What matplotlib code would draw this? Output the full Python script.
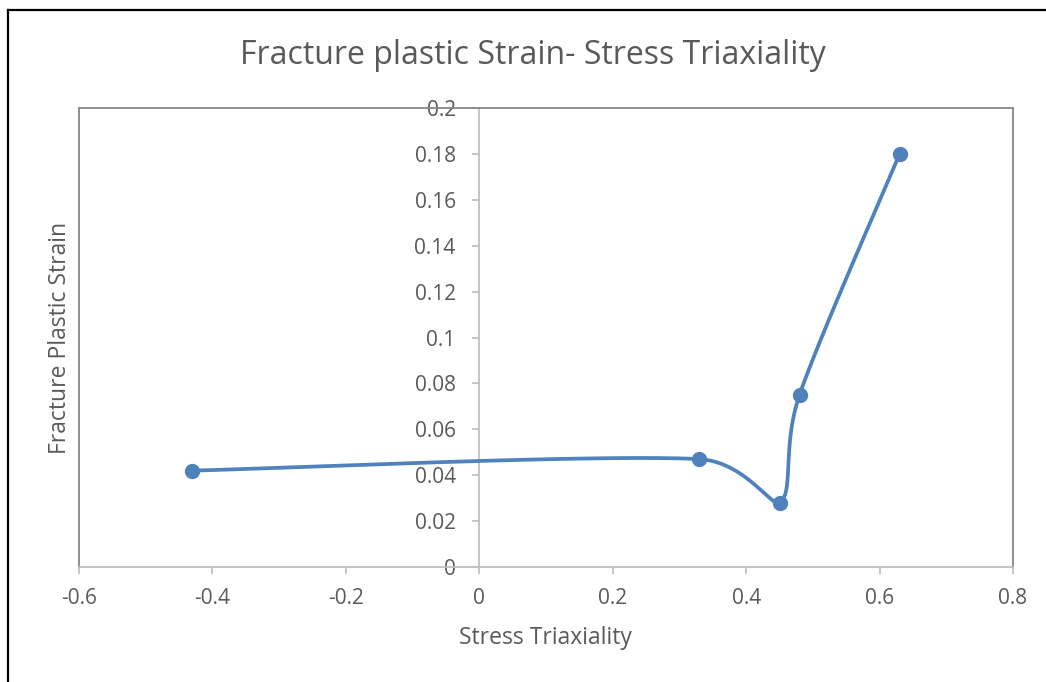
import numpy as np
import matplotlib
matplotlib.use("Agg")
import matplotlib.pyplot as plt
from matplotlib.lines import Line2D
from matplotlib.ticker import FuncFormatter, MultipleLocator

# data
triaxiality = [-0.43, 0.33, 0.45, 0.48, 0.63]
fracture_strain = [0.042, 0.047, 0.028, 0.075, 0.18]

title = "Fracture plastic Strain- Stress Triaxiality"
xlabel = "Stress Triaxiality"
ylabel = "Fracture Plastic Strain"

blue = "#4F81BD"
text_col = "#595959"
light_grey = "#BFBFBF"
dark_grey = "#868686"

plt.rcParams['font.family'] = ['Open Sans', 'DejaVu Sans']

W, H = 1046, 682
fig = plt.figure(figsize=(W / 100, H / 100), dpi=100)
ax = fig.add_axes([79 / W, 1 - 567 / H, (1013 - 79) / W, (567 - 108) / H])

ax.set_xlim(-0.6, 0.8)
ax.set_ylim(0, 0.2)


def excel_smooth(xs, ys, n=80):
    # Bezier smoothing like Excel's "smoothed line", done in pixel space
    pts = ax.transData.transform(np.column_stack([xs, ys]))
    k = len(pts)
    curve = []
    for i in range(k - 1):
        p0 = pts[i - 1] if i > 0 else pts[i]
        p1 = pts[i]
        p2 = pts[i + 1]
        p3 = pts[i + 2] if i + 2 < k else pts[i + 1]
        d12 = np.hypot(*(p2 - p1))
        d02 = np.hypot(*(p2 - p0))
        d13 = np.hypot(*(p3 - p1))
        f1 = f2 = 1 / 6
        if d02 / 6 >= d12 / 2 or d13 / 6 >= d12 / 2:
            if d02 / 6 >= d12 / 2:
                f1 = d12 / d02 / 2
            if d13 / 6 >= d12 / 2:
                f2 = d12 / d13 / 2
            f1 = f2 = min(f1, f2)
        c1 = p1 + (p2 - p0) * f1
        c2 = p2 - (p3 - p1) * f2
        t = np.linspace(0, 1, n)[:, None]
        seg = ((1 - t) ** 3) * p1 + 3 * ((1 - t) ** 2) * t * c1 \
            + 3 * (1 - t) * t ** 2 * c2 + t ** 3 * p2
        curve.append(seg if i == 0 else seg[1:])
    curve = np.vstack(curve)
    return ax.transData.inverted().transform(curve)


smooth = excel_smooth(triaxiality, fracture_strain)
ax.plot(smooth[:, 0], smooth[:, 1], color=blue, linewidth=2.7,
        solid_capstyle='round', solid_joinstyle='round', zorder=3, clip_on=False)
ax.plot(triaxiality, fracture_strain, linestyle='none', marker='o',
        markersize=10, color=blue, zorder=4, clip_on=False)

# axes look
ax.spines['left'].set_position(('data', 0))
ax.spines['left'].set_color(light_grey)
ax.spines['bottom'].set_color(light_grey)
ax.spines['left'].set_linewidth(1.3)
ax.spines['bottom'].set_linewidth(1.3)
ax.spines['top'].set_color(dark_grey)
ax.spines['right'].set_color(dark_grey)
ax.spines['top'].set_linewidth(1.3)
ax.spines['right'].set_linewidth(1.3)
ax.add_line(Line2D([0, 0], [0, 1], transform=ax.transAxes,
                   color=dark_grey, linewidth=1.3, clip_on=False))

ax.xaxis.set_major_locator(MultipleLocator(0.2))
ax.yaxis.set_major_locator(MultipleLocator(0.02))


def fmt(v, pos):
    v = round(v, 2)
    if v == 0:
        return "0"
    return f"{v:g}"


ax.xaxis.set_major_formatter(FuncFormatter(fmt))
ax.yaxis.set_major_formatter(FuncFormatter(fmt))
ax.tick_params(axis='both', colors=light_grey, labelcolor=text_col,
               labelsize=15, length=5, width=1.3)
ax.tick_params(axis='y', pad=12)
ax.tick_params(axis='x', pad=10)

fig.text(533 / W, 1 - 55 / H, title, ha='center', va='center',
         fontsize=23, color=text_col)
fig.text(545 / W, 1 - 638 / H, xlabel, ha='center', va='center',
         fontsize=16.5, color=text_col)
fig.text(60 / W, 1 - 338 / H, ylabel, ha='center', va='center',
         rotation=90, fontsize=16.5, color=text_col)

# outer frame of the chart (only left and top visible in the crop)
fig.add_artist(Line2D([8 / W, 8 / W], [0, 1 - 10 / H], transform=fig.transFigure,
                      color='black', linewidth=1.6))
fig.add_artist(Line2D([8 / W, 1], [1 - 10 / H, 1 - 10 / H], transform=fig.transFigure,
                      color='black', linewidth=1.6))

fig.savefig("out.png", dpi=100)
